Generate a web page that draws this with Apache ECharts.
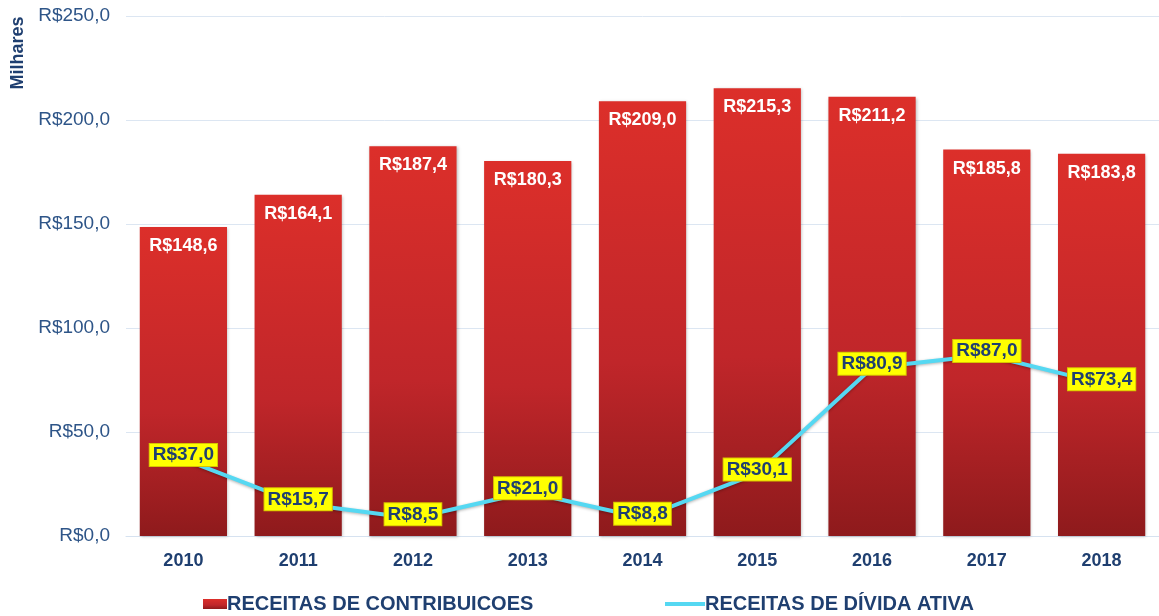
<!DOCTYPE html>
<html>
<head>
<meta charset="utf-8">
<script src="https://cdn.jsdelivr.net/npm/echarts@6/dist/echarts.min.js"></script>
<style>
  html, body { margin: 0; padding: 0; background: #fff; }
  #chart { width: 1159px; height: 616px; }
</style>
</head>
<body>
<div id="chart"></div>
<script>
const anos = ['2010', '2011', '2012', '2013', '2014', '2015', '2016', '2017', '2018']
const contribuicoes = [148.6, 164.1, 187.4, 180.3, 209.0, 215.3, 211.2, 185.8, 183.8]
const dividaAtiva = [37.0, 15.7, 8.5, 21.0, 8.8, 30.1, 80.9, 87.0, 73.4]

const reais = v => 'R$' + v.toFixed(1).replace('.', ',')
const azul = '#1f3f70'

let myCharts = echarts.init(document.getElementById('chart'))
let option = {
  textStyle: { fontFamily: 'Liberation Sans, Arial, sans-serif' },
  grid: { left: 126, right: 0, top: 16, bottom: 80 },
  graphic: [
    {
      type: 'text',
      x: 18,
      y: 53,
      rotation: Math.PI / 2,
      style: {
        text: 'Milhares',
        fill: azul,
        font: 'bold 18px "Liberation Sans", Arial, sans-serif',
        align: 'center',
        verticalAlign: 'middle'
      }
    }
  ],
  legend: [
    {
      top: 589,
      left: 198,
      itemWidth: 24,
      itemHeight: 10,
      icon: 'rect',
      textStyle: { color: azul, fontSize: 20, fontWeight: 'bold', padding: [0, 0, 0, -5] },
      data: ['RECEITAS DE CONTRIBUICOES']
    },
    {
      top: 589,
      left: 660,
      itemWidth: 40,
      itemHeight: 4,
      icon: 'rect',
      textStyle: { color: azul, fontSize: 20, fontWeight: 'bold', padding: [0, 0, 0, -5] },
      data: ['RECEITAS DE DÍVIDA ATIVA']
    }
  ],
  xAxis: {
    type: 'category',
    data: anos,
    axisLine: { lineStyle: { color: '#d6e2f0' } },
    axisTick: { show: false },
    axisLabel: { color: azul, fontSize: 18, fontWeight: 'bold', margin: 16 }
  },
  yAxis: {
    type: 'value',
    min: 0,
    max: 250,
    interval: 50,
    axisLabel: { color: '#2e5588', fontSize: 19, margin: 16, formatter: v => reais(v) },
    splitLine: { lineStyle: { color: '#dce6f2' } }
  },
  series: [
    {
      name: 'RECEITAS DE CONTRIBUICOES',
      type: 'bar',
      barCategoryGap: '24%',
      data: contribuicoes,
      itemStyle: {
        color: new echarts.graphic.LinearGradient(0, 0, 0, 1, [
          { offset: 0, color: '#dc2f2a' },
          { offset: 0.6, color: '#c0262a' },
          { offset: 1, color: '#8e1a1c' }
        ]),
        shadowColor: 'rgba(0,0,0,0.25)',
        shadowBlur: 3,
        shadowOffsetX: 1,
        shadowOffsetY: 1
      },
      label: {
        show: true,
        position: 'insideTop',
        distance: 10,
        color: '#fff',
        fontSize: 18,
        fontWeight: 'bold',
        formatter: p => reais(p.value)
      }
    },
    {
      name: 'RECEITAS DE DÍVIDA ATIVA',
      type: 'line',
      data: dividaAtiva,
      symbol: 'circle',
      symbolSize: 0,
      itemStyle: { color: '#55d8f2' },
      lineStyle: {
        width: 4,
        color: '#55d8f2',
        shadowColor: 'rgba(0,0,0,0.3)',
        shadowBlur: 3,
        shadowOffsetY: 1
      },
      label: {
        show: true,
        position: 'inside',
        offset: [0, -4],
        color: azul,
        fontSize: 19,
        fontWeight: 'bold',
        backgroundColor: '#ffff00',
        borderColor: '#d8c400',
        borderWidth: 1,
        padding: [2, 3, 1, 3],
        formatter: p => reais(p.value)
      },
      z: 5
    }
  ]
}
myCharts.setOption(option)
</script>
</body>
</html>
